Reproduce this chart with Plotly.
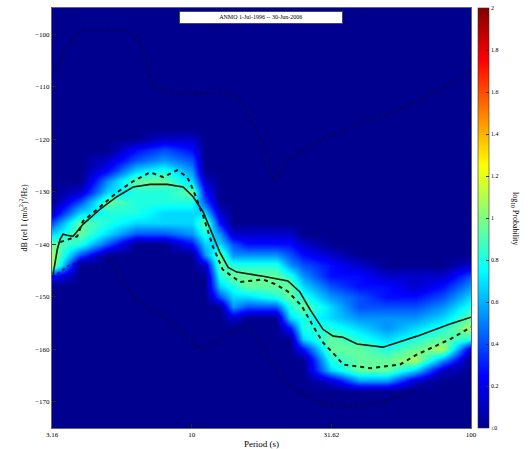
import math
import plotly.graph_objects as go

# ---------------- data ----------------
# PDF grid: period columns (s) and dB bins (2 dB steps, top to bottom)
periods_grid = [3.16, 3.98, 5.01, 6.31, 7.94, 10.0, 11.2, 12.6, 14.1, 15.8,
                20.0, 22.4, 25.1, 31.6, 39.8, 50.1, 63.1, 79.4, 100.0]
db_bins = list(range(-96, -175, -2))
# per column: (dB of first non-zero bin, levels going downward); level d -> log10 P = level_step*d
pdf_columns = [
    (-134, "1357882"),
    (-130, "1357763"),
    (-124, "124576653"),
    (-122, "235766653"),
    (-120, "1346766553"),
    (-120, "12345765542"),
    (-128, "123576541"),
    (-134, "124577653"),
    (-138, "134676541"),
    (-138, "12467753"),
    (-138, "12467763"),
    (-138, "1234677652"),
    (-140, "12345676652"),
    (-142, "1223455677651"),
    (-144, "122334567774"),
    (-146, "12234456774"),
    (-146, "11234567851"),
    (-146, "1234567841"),
    (-144, "134567861"),
]
level_step = 0.135

# mode (solid) curve
mode_period = [3.19, 3.30, 3.38, 3.46, 3.58, 3.76, 4.08, 4.70, 5.41, 6.17, 7.10, 8.17,
               9.31, 10.1, 11.0, 11.9, 12.6, 13.5, 14.5, 18.0, 22.1, 24.4, 26.5, 29.5,
               32.1, 34.8, 39.1, 48.4, 64.1, 84.1, 100.0]
mode_db = [-145.7, -141.0, -139.0, -138.1, -138.3, -138.5, -136.2, -133.3, -130.9, -129.1,
           -128.6, -128.6, -129.1, -130.9, -133.9, -138.5, -141.5, -144.4, -145.3, -146.1,
           -147.0, -149.1, -152.4, -156.2, -157.5, -157.7, -159.0, -159.6, -157.5, -155.2,
           -153.9]

# median (dashed) curve
median_period = [3.38, 3.67, 3.89, 4.08, 4.70, 5.41, 6.17, 7.10, 7.90, 8.87, 9.63, 10.1,
                 11.0, 11.9, 12.9, 14.9, 18.0, 19.9, 22.1, 24.8, 27.2, 29.5, 33.1, 34.8,
                 43.5, 55.7, 64.1, 84.1, 100.0]
median_db = [-139.6, -139.0, -138.5, -135.6, -132.8, -130.1, -128.0, -126.3, -127.2, -125.9,
             -127.2, -129.5, -134.7, -140.4, -144.8, -147.2, -146.7, -147.6, -149.0, -151.8,
             -155.6, -158.7, -161.5, -162.9, -163.6, -162.9, -161.0, -158.1, -155.8]

# upper dotted curve
upper_period = [3.24, 3.46, 3.76, 4.08, 5.87, 6.37, 6.92, 7.27, 8.16, 13.7, 15.3, 16.6,
                17.9, 19.6, 22.1, 29.3, 38.5, 50.5, 65.7, 84.1, 100.0]
upper_db = [-106.7, -104.2, -100.6, -99.4, -99.4, -100.6, -105.1, -109.5, -111.4, -111.0,
            -113.3, -117.1, -120.6, -128.0, -123.8, -120.0, -117.5, -115.2, -112.4, -109.5,
            -107.0]

# lower dotted curve
lower_period = [3.16, 3.30, 3.58, 4.22, 4.70, 5.10, 5.54, 6.17, 7.10, 8.16, 9.31, 10.7,
                12.3, 14.5, 16.2, 18.6, 22.5, 28.1, 36.9, 48.4, 64.1, 79.4, 100.0]
lower_db = [-146.1, -145.7, -144.2, -142.9, -142.5, -143.2, -146.1, -149.9, -152.4, -154.3,
            -156.8, -160.0, -158.7, -155.6, -155.6, -161.3, -167.0, -170.1, -170.9, -170.1,
            -167.6, -164.4, -161.5]

title_text = "ANMO 1-Jul-1996 -- 30-Jun-2006"
x_tickvals = [3.16, 10, 31.62, 100]
x_ticktext = ["3.16", "10", "31.62", "100"]
y_tickvals = [-170, -160, -150, -140, -130, -120, -110, -100]
cb_tickvals = [0, 0.2, 0.4, 0.6, 0.8, 1.0, 1.2, 1.4, 1.6, 1.8, 2.0]
cb_ticktext = ["\u22640", "0.2", "0.4", "0.6", "0.8", "1", "1.2", "1.4", "1.6", "1.8", "2"]

# ---------------- build PDF grid ----------------
n_rows = len(db_bins)
z = [[0.0] * len(periods_grid) for _ in range(n_rows)]
for c, (start_db, levels) in enumerate(pdf_columns):
    k0 = (db_bins[0] - start_db) // 2
    for i, ch in enumerate(levels):
        z[k0 + i][c] = level_step * int(ch)

jet = [[0.0, "#00008F"], [0.125, "#0000FF"], [0.375, "#00FFFF"],
       [0.625, "#FFFF00"], [0.875, "#FF0000"], [1.0, "#800000"]]

serif = "Liberation Serif"

fig = go.Figure()
fig.add_trace(go.Heatmap(
    x=periods_grid, y=db_bins, z=z, zmin=0, zmax=2, zsmooth="best",
    colorscale=jet, hoverinfo="skip",
    colorbar=dict(x=(478 - 52) / 419, xanchor="left", xpad=0, ypad=0,
                  thickness=11, len=1, y=0.5, yanchor="middle",
                  outlinewidth=0.6, outlinecolor="#333",
                  tickvals=cb_tickvals, ticktext=cb_ticktext,
                  ticks="inside", ticklen=3, tickcolor="#333",
                  tickfont=dict(family=serif, size=6, color="black")),
))
dot_line = dict(color="rgba(0,0,40,0.55)", width=2, dash="dot")
fig.add_trace(go.Scatter(x=upper_period, y=upper_db, mode="lines", line=dot_line,
                         hoverinfo="skip", showlegend=False))
fig.add_trace(go.Scatter(x=lower_period, y=lower_db, mode="lines", line=dot_line,
                         hoverinfo="skip", showlegend=False))
fig.add_trace(go.Scatter(x=median_period, y=median_db, mode="lines",
                         line=dict(color="#0a1a0a", width=2, dash="4px,4px"),
                         hoverinfo="skip", showlegend=False))
fig.add_trace(go.Scatter(x=mode_period, y=mode_db, mode="lines",
                         line=dict(color="#0a1a0a", width=1.6),
                         hoverinfo="skip", showlegend=False))

axis_common = dict(showgrid=False, zeroline=False, showline=True, mirror=True,
                   linecolor="#666", linewidth=1, ticks="inside", ticklen=4,
                   tickcolor="#222", automargin=False,
                   tickfont=dict(family=serif, size=7, color="black"))

fig.update_layout(
    width=532, height=449,
    margin=dict(l=52, r=61, t=8, b=21, autoexpand=False),
    paper_bgcolor="white", plot_bgcolor="#00008F",
    showlegend=False,
    xaxis=dict(type="log", range=[math.log10(3.16), 2],
               tickvals=x_tickvals, ticktext=x_ticktext,
               title=dict(text="Period (s)", standoff=2,
                          font=dict(family=serif, size=9, color="black")),
               **axis_common),
    yaxis=dict(range=[-175, -95], tickvals=y_tickvals,
               title=dict(text="dB (rel 1 (m/s<sup>2</sup>)<sup>2</sup>/Hz)", standoff=6,
                          font=dict(family=serif, size=8, color="black")),
               **axis_common),
    annotations=[
        dict(text=title_text, xref="paper", yref="paper", x=(261 - 52) / 419,
             y=1 - (17 - 8) / 420, xanchor="center", yanchor="middle",
             showarrow=False, bgcolor="white", bordercolor="#333", borderwidth=0.8,
             width=160, height=9,
             font=dict(family=serif, size=6, color="black")),
        dict(text="log<sub>10</sub> Probability", xref="paper", yref="paper",
             x=(515 - 52) / 419, y=0.5, xanchor="center", yanchor="middle",
             textangle=90, showarrow=False,
             font=dict(family=serif, size=8, color="black")),
    ],
)

# remove the browser's default page margin so the figure sits at the window's corner
fig.write_html("out.html", config={"displayModeBar": False},
               post_script="document.body.style.margin='0';document.body.style.padding='0';")
